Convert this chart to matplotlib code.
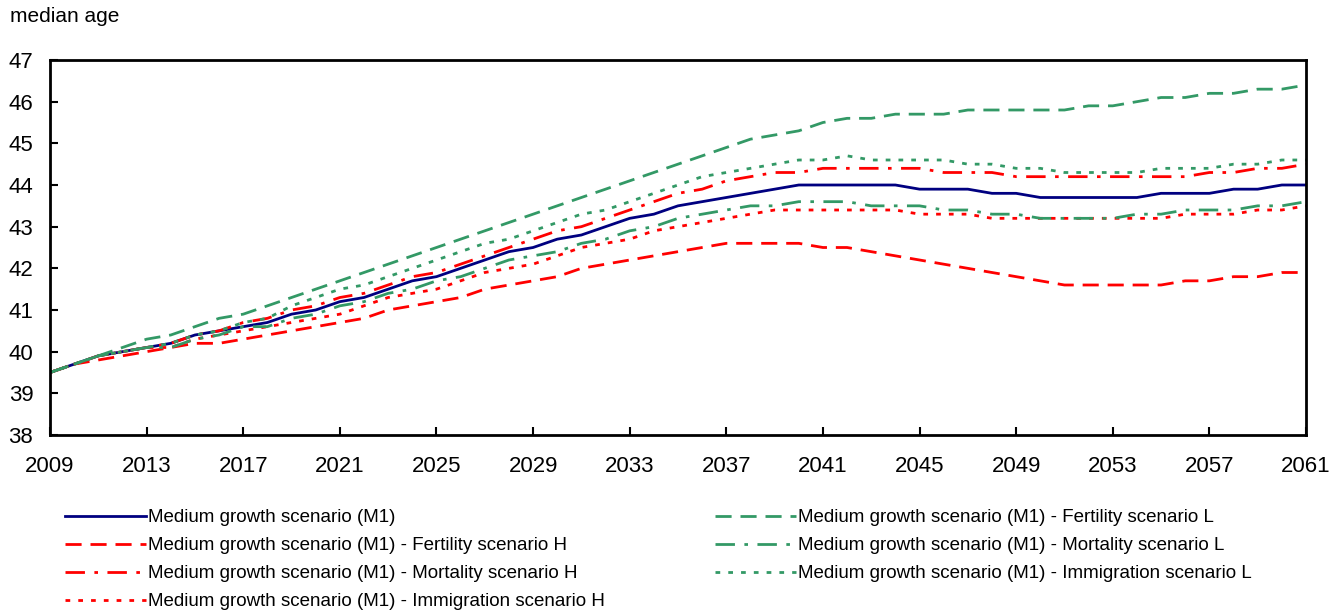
import matplotlib
matplotlib.use("Agg")
import matplotlib.pyplot as plt

plt.rcParams['font.family'] = ['Liberation Sans', 'DejaVu Sans']

## data (median age)
years = list(range(2009, 2062))

m1 = [39.5, 39.7, 39.9, 40.0, 40.1, 40.2, 40.4, 40.5, 40.6, 40.7,
      40.9, 41.0, 41.2, 41.3, 41.5, 41.7, 41.8, 42.0, 42.2, 42.4,
      42.5, 42.7, 42.8, 43.0, 43.2, 43.3, 43.5, 43.6, 43.7, 43.8,
      43.9, 44.0, 44.0, 44.0, 44.0, 44.0, 43.9, 43.9, 43.9, 43.8,
      43.8, 43.7, 43.7, 43.7, 43.7, 43.7, 43.8, 43.8, 43.8, 43.9,
      43.9, 44.0, 44.0]
fert_h = [39.5, 39.7, 39.8, 39.9, 40.0, 40.1, 40.2, 40.2, 40.3, 40.4,
          40.5, 40.6, 40.7, 40.8, 41.0, 41.1, 41.2, 41.3, 41.5, 41.6,
          41.7, 41.8, 42.0, 42.1, 42.2, 42.3, 42.4, 42.5, 42.6, 42.6,
          42.6, 42.6, 42.5, 42.5, 42.4, 42.3, 42.2, 42.1, 42.0, 41.9,
          41.8, 41.7, 41.6, 41.6, 41.6, 41.6, 41.6, 41.7, 41.7, 41.8,
          41.8, 41.9, 41.9]
mort_h = [39.5, 39.7, 39.9, 40.0, 40.1, 40.2, 40.4, 40.5, 40.7, 40.8,
          41.0, 41.1, 41.3, 41.4, 41.6, 41.8, 41.9, 42.1, 42.3, 42.5,
          42.7, 42.9, 43.0, 43.2, 43.4, 43.6, 43.8, 43.9, 44.1, 44.2,
          44.3, 44.3, 44.4, 44.4, 44.4, 44.4, 44.4, 44.3, 44.3, 44.3,
          44.2, 44.2, 44.2, 44.2, 44.2, 44.2, 44.2, 44.2, 44.3, 44.3,
          44.4, 44.4, 44.5]
imm_h = [39.5, 39.7, 39.9, 40.0, 40.1, 40.1, 40.3, 40.4, 40.5, 40.6,
         40.7, 40.8, 40.9, 41.1, 41.3, 41.4, 41.5, 41.7, 41.9, 42.0,
         42.1, 42.3, 42.5, 42.6, 42.7, 42.9, 43.0, 43.1, 43.2, 43.3,
         43.4, 43.4, 43.4, 43.4, 43.4, 43.4, 43.3, 43.3, 43.3, 43.2,
         43.2, 43.2, 43.2, 43.2, 43.2, 43.2, 43.2, 43.3, 43.3, 43.3,
         43.4, 43.4, 43.5]
fert_l = [39.5, 39.7, 39.9, 40.1, 40.3, 40.4, 40.6, 40.8, 40.9, 41.1,
          41.3, 41.5, 41.7, 41.9, 42.1, 42.3, 42.5, 42.7, 42.9, 43.1,
          43.3, 43.5, 43.7, 43.9, 44.1, 44.3, 44.5, 44.7, 44.9, 45.1,
          45.2, 45.3, 45.5, 45.6, 45.6, 45.7, 45.7, 45.7, 45.8, 45.8,
          45.8, 45.8, 45.8, 45.9, 45.9, 46.0, 46.1, 46.1, 46.2, 46.2,
          46.3, 46.3, 46.4]
mort_l = [39.5, 39.7, 39.9, 40.0, 40.1, 40.1, 40.3, 40.4, 40.6, 40.6,
          40.8, 40.9, 41.1, 41.2, 41.4, 41.5, 41.7, 41.8, 42.0, 42.2,
          42.3, 42.4, 42.6, 42.7, 42.9, 43.0, 43.2, 43.3, 43.4, 43.5,
          43.5, 43.6, 43.6, 43.6, 43.5, 43.5, 43.5, 43.4, 43.4, 43.3,
          43.3, 43.2, 43.2, 43.2, 43.2, 43.3, 43.3, 43.4, 43.4, 43.4,
          43.5, 43.5, 43.6]
imm_l = [39.5, 39.7, 39.9, 40.0, 40.1, 40.2, 40.4, 40.5, 40.7, 40.8,
         41.1, 41.3, 41.5, 41.6, 41.8, 42.0, 42.2, 42.4, 42.6, 42.7,
         42.9, 43.1, 43.3, 43.4, 43.6, 43.8, 44.0, 44.2, 44.3, 44.4,
         44.5, 44.6, 44.6, 44.7, 44.6, 44.6, 44.6, 44.6, 44.5, 44.5,
         44.4, 44.4, 44.3, 44.3, 44.3, 44.3, 44.4, 44.4, 44.4, 44.5,
         44.5, 44.6, 44.6]

labels = ["Medium growth scenario (M1)",
          "Medium growth scenario (M1) - Fertility scenario H",
          "Medium growth scenario (M1) - Mortality scenario H",
          "Medium growth scenario (M1) - Immigration scenario H",
          "Medium growth scenario (M1) - Fertility scenario L",
          "Medium growth scenario (M1) - Mortality scenario L",
          "Medium growth scenario (M1) - Immigration scenario L"]

NAVY = '#000080'
RED = '#ff0000'
GREEN = '#339966'

dash = (5.8, 3.2)
dashdot = (7.0, 3.4, 1.3, 3.4)
dot = (1.7, 2.9)

## plot
fig = plt.figure(figsize=(13.41, 6.12), dpi=100)
ax = fig.add_axes([50/1341, 1-435/612, 1256/1341, 375/612])

lw = 2.0
l0, = ax.plot(years, m1, color=NAVY, lw=lw, label=labels[0])
l1, = ax.plot(years, fert_h, color=RED, lw=lw, dashes=dash, label=labels[1])
l2, = ax.plot(years, mort_h, color=RED, lw=lw, dashes=dashdot, label=labels[2])
l3, = ax.plot(years, imm_h, color=RED, lw=lw, dashes=dot, label=labels[3])
l4, = ax.plot(years, fert_l, color=GREEN, lw=lw, dashes=dash, label=labels[4])
l5, = ax.plot(years, mort_l, color=GREEN, lw=lw, dashes=dashdot, label=labels[5])
l6, = ax.plot(years, imm_l, color=GREEN, lw=lw, dashes=dot, label=labels[6])

ax.set_xlim(2009, 2061)
ax.set_ylim(38, 47)
ax.set_xticks(years[::4])
ax.set_yticks(range(38, 48))
for s in ax.spines.values():
    s.set_linewidth(2.0)
ax.tick_params(axis='x', direction='in', length=6, width=1.5, labelsize=16, pad=15)
ax.tick_params(axis='y', direction='in', length=6, width=1.5, labelsize=16, pad=12)

fig.text(10/1341, 1-17/612, "median age", fontsize=15, va='center', ha='left')

leg_kw = dict(frameon=False, fontsize=13.5, handlelength=4.3, handletextpad=0.15,
              labelspacing=0.58, borderpad=0, borderaxespad=0, loc='upper left')
fig.legend(handles=[l0, l1, l2, l3], bbox_to_anchor=(65/1341, 1-509/612), **leg_kw)
fig.legend(handles=[l4, l5, l6], bbox_to_anchor=(715/1341, 1-509/612), **leg_kw)

plt.savefig("out.png", dpi=100)
